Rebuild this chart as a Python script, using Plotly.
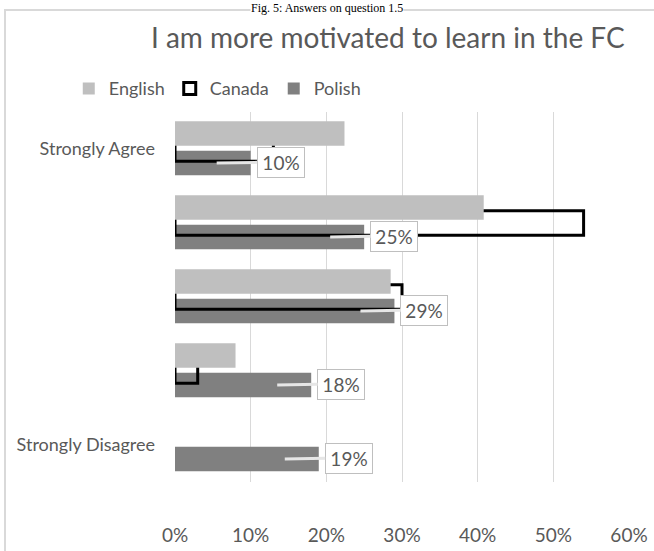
import plotly.graph_objects as go

categories = ["Strongly Agree", "Agree", "Neutral", "Disagree", "Strongly Disagree"]
tick_labels = ["Strongly Agree", "", "", "", "Strongly Disagree"]
english = [22.4, 40.8, 28.5, 8.0, 0]
canada = [13, 54, 30, 3, None]
polish = [10, 25, 29, 18, 19]
x_ticks = [0, 10, 20, 30, 40, 50, 60]

GREY_TXT = "#595959"
FONT = "Lato"

fig = go.Figure()

fig.add_trace(go.Bar(
    y=categories, x=polish, orientation="h", name="Polish",
    marker=dict(color="#808080", line=dict(width=0)),
    width=0.33, offset=0.025, legendrank=3,
))
fig.add_trace(go.Bar(
    y=categories, x=canada, orientation="h", name="Canada",
    marker=dict(color="rgba(0,0,0,0)", line=dict(color="black", width=3)),
    width=0.33, offset=-0.165, legendrank=2,
))
fig.add_trace(go.Bar(
    y=categories, x=english, orientation="h", name="English",
    marker=dict(color="#bfbfbf", line=dict(width=0)),
    width=0.33, offset=-0.375, legendrank=1,
))

# callout labels for the Polish series
for cat, v in zip(categories, polish):
    fig.add_annotation(
        x=v, y=cat, xref="x", yref="y",
        text=f"{v}%", showarrow=True, arrowhead=0, arrowwidth=3,
        arrowcolor="#e6e6e6", ax=64, ay=-1, xshift=-34, yshift=-14,
        width=40, align="center",
        bgcolor="white", bordercolor="#bfbfbf", borderwidth=1, borderpad=3,
        font=dict(family=FONT, size=19, color=GREY_TXT),
    )

# figure caption (at the very top of the image)
fig.add_annotation(
    x=0.3348, y=1.2811, xref="paper", yref="paper",
    text="Fig. 5: Answers on question 1.5", showarrow=False,
    xanchor="center", yanchor="middle", bgcolor="white", borderpad=0,
    font=dict(family="Liberation Serif", size=12, color="black"),
)

# chart-area border
fig.add_shape(type="rect", xref="paper", yref="paper", layer="below",
              x0=-0.3744, x1=1.3, y0=-0.5, y1=1.2757,
              line=dict(color="#d9d9d9", width=2), fillcolor="rgba(0,0,0,0)")

fig.update_layout(
    width=654, height=551,
    margin=dict(l=175, r=25, t=112, b=69, autoexpand=False),
    paper_bgcolor="white", plot_bgcolor="white",
    barmode="overlay",
    title=dict(text="I am more motivated to learn in the FC",
               x=0.593, xanchor="center", y=0.931, yanchor="middle",
               font=dict(family=FONT, size=28, color=GREY_TXT)),
    legend=dict(orientation="h", x=-0.234, xanchor="left", y=1.063, yanchor="middle",
                font=dict(family=FONT, size=18, color=GREY_TXT),
                itemwidth=30, traceorder="normal", bgcolor="rgba(0,0,0,0)"),
    showlegend=True,
    font=dict(family=FONT, color=GREY_TXT),
)

fig.update_xaxes(
    range=[0, 60], tickvals=x_ticks, ticktext=[f"{t}%" for t in x_ticks],
    showgrid=True, gridcolor="#d9d9d9", gridwidth=1,
    zeroline=False, showline=False, ticks="", automargin=False,
    ticklabelstandoff=40,
    tickfont=dict(family=FONT, size=19, color=GREY_TXT),
)
fig.update_yaxes(
    categoryorder="array", categoryarray=categories,
    tickvals=categories, ticktext=tick_labels, automargin=False,
    range=[4.5, -0.5], showgrid=False, zeroline=False, showline=False, ticks="",
    ticklabelstandoff=19,
    tickfont=dict(family=FONT, size=18, color=GREY_TXT),
)

fig.write_html("out.html")
